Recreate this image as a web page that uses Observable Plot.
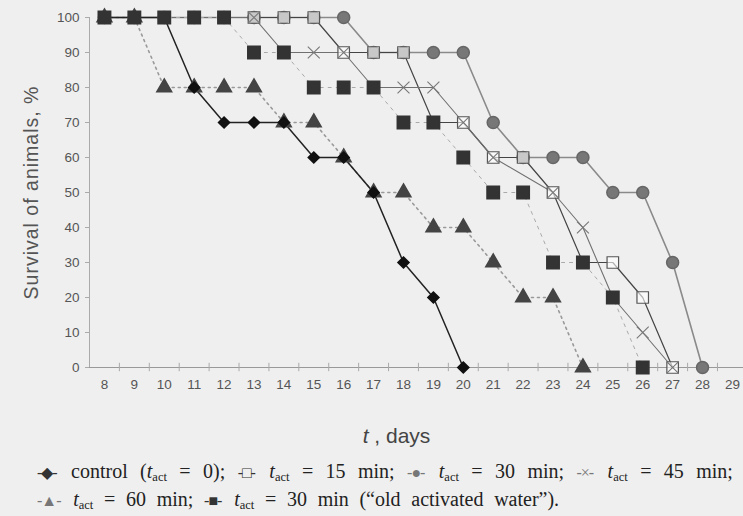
<!DOCTYPE html>
<html>
<head>
<meta charset="utf-8">
<script src="https://cdn.jsdelivr.net/npm/d3@7"></script>
<script src="https://cdn.jsdelivr.net/npm/@observablehq/plot@0.6"></script>
<style>
  html, body { margin: 0; padding: 0; background: #efefef; }
  #wrap { width: 743px; height: 516px; overflow: hidden; background: #efefef; }
  #xlabel { height: 32px; line-height: 32px; font-family: "Liberation Sans", Arial, sans-serif; font-size: 21px; color: #444; text-align: center; padding-left: 50px; box-sizing: border-box; width: 743px; }
  #legend { font-family: "Liberation Serif", "Times New Roman", serif; font-size: 20px; color: #222; line-height: 26px; padding-left: 37px; margin-top: 6px; white-space: nowrap; }
  #legend sub { font-size: 12.5px; vertical-align: -3px; line-height: 0; }
  #l1 { word-spacing: 7.4px; }
  #l2 { word-spacing: 5.7px; }
  .s { color: #333; letter-spacing: -1px; margin-right: 2px; font-size: 16px; word-spacing: 0; }
  .g { color: #777; }
  .ytitle text { letter-spacing: 1px; }
</style>
</head>
<body>
<div id="wrap">
  <div id="chart"></div>
  <div id="xlabel"><i>t</i> , days</div>
  <div id="legend">
    <div id="l1"><span class="s">-◆-</span> control (<i>t</i><sub>act</sub> = 0); <span class="s">-□-</span> <i>t</i><sub>act</sub> = 15 min; <span class="s g">-●-</span> <i>t</i><sub>act</sub> = 30 min; <span class="s g">-×-</span> <i>t</i><sub>act</sub> = 45 min;</div>
    <div id="l2"><span class="s g">-▲-</span> <i>t</i><sub>act</sub> = 60 min; <span class="s">-■-</span> <i>t</i><sub>act</sub> = 30 min (“old activated water”).</div>
  </div>
</div>
<script>
// Tick labels
const dayTicks = d3.range(8, 30);
const survivalTicks = d3.range(0, 101, 10);
const yAxisTitle = "Survival of animals, %";

// Series (day, survival %)
const controlDays     = [8, 9, 10, 11, 12, 13, 14, 15, 16, 17, 18, 19, 20];
const controlSurvival = [100, 100, 100, 80, 70, 70, 70, 60, 60, 50, 30, 20, 0];

const t15Days     = [8, 9, 10, 11, 12, 13, 14, 15, 16, 17, 18, 19, 20, 21, 22, 23, 24, 25, 26, 27];
const t15Survival = [100, 100, 100, 100, 100, 100, 100, 100, 90, 90, 90, 70, 70, 60, 60, 50, 30, 30, 20, 0];

const t30Days     = [8, 9, 10, 11, 12, 13, 14, 15, 16, 17, 18, 19, 20, 21, 22, 23, 24, 25, 26, 27, 28];
const t30Survival = [100, 100, 100, 100, 100, 100, 100, 100, 100, 90, 90, 90, 90, 70, 60, 60, 60, 50, 50, 30, 0];

const t45Days     = [8, 9, 10, 11, 12, 13, 14, 15, 16, 17, 18, 19, 20, 21, 23, 24, 25, 26, 27];
const t45Survival = [100, 100, 100, 100, 100, 100, 90, 90, 90, 80, 80, 80, 70, 60, 50, 40, 20, 10, 0];

const t60Days     = [8, 9, 10, 11, 12, 13, 14, 15, 16, 17, 18, 19, 20, 21, 22, 23, 24];
const t60Survival = [100, 100, 80, 80, 80, 80, 70, 70, 60, 50, 50, 40, 40, 30, 20, 20, 0];

const oldDays     = [8, 9, 10, 11, 12, 13, 14, 15, 16, 17, 18, 19, 20, 21, 22, 23, 24, 25, 26];
const oldSurvival = [100, 100, 100, 100, 100, 90, 90, 80, 80, 80, 70, 70, 60, 50, 50, 30, 30, 20, 0];

const toRows = (days, vals) => days.map((d, i) => ({day: d, value: vals[i]}));
const control = toRows(controlDays, controlSurvival);
const t15 = toRows(t15Days, t15Survival);
const t30 = toRows(t30Days, t30Survival);
const t45 = toRows(t45Days, t45Survival);
const t60 = toRows(t60Days, t60Survival);
const old = toRows(oldDays, oldSurvival);

const halfTicks = d3.range(8.5, 29.5, 1);

const chart = Plot.plot({
  width: 743,
  height: 420,
  marginLeft: 89,
  marginRight: 0,
  marginTop: 17,
  marginBottom: 53,
  style: {background: "#efefef", fontFamily: "Liberation Sans, Arial, sans-serif", fontSize: "13.5px", color: "#555"},
  x: {domain: [7.5, 29.37]},
  y: {domain: [0, 100]},
  marks: [
    Plot.ruleY([0], {stroke: "#999", strokeWidth: 1}),
    Plot.ruleX([7.5], {y1: 0, y2: 100, stroke: "#aaa", strokeWidth: 1}),
    Plot.ruleX(halfTicks, {x: d => d, y1: -1.2, y2: 1.2, stroke: "#aaa", strokeWidth: 1}),
    Plot.axisY({ticks: survivalTicks, tickSize: 4, tickPadding: 6, stroke: "#aaa", fill: "#555", label: null, fontSize: 13.5}),
    Plot.text([yAxisTitle], {frameAnchor: "left", textAnchor: "middle", rotate: -90, dx: -58, text: d => d, fontSize: 19.5, fill: "#555", className: "ytitle"}),
    Plot.axisX({ticks: dayTicks, tickSize: 0, tickPadding: 12, label: null, fill: "#555", fontSize: 13.5}),
    // lines
    Plot.line(t30, {x: "day", y: "value", stroke: "#8a8a8a", strokeWidth: 1.6}),
    Plot.line(t15, {x: "day", y: "value", stroke: "#444", strokeWidth: 1.2}),
    Plot.line(t45, {x: "day", y: "value", stroke: "#707070", strokeWidth: 1.1}),
    Plot.line(t60, {x: "day", y: "value", stroke: "#999", strokeWidth: 1.6, strokeDasharray: "2,4"}),
    Plot.line(old, {x: "day", y: "value", stroke: "#aaa", strokeWidth: 1, strokeDasharray: "3,5"}),
    Plot.line(control, {x: "day", y: "value", stroke: "#222", strokeWidth: 1.5}),
    // markers
    Plot.dot(t30, {x: "day", y: "value", symbol: "circle", r: 6, fill: "#777", stroke: "#666"}),
    Plot.dot(t15, {x: "day", y: "value", symbol: "square", r: 6.5, fill: "#fff", fillOpacity: 0.6, stroke: "#555", strokeWidth: 1.2}),
    Plot.dot(t45, {x: "day", y: "value", symbol: "times", r: 5.5, stroke: "#777", strokeWidth: 1.1}),
    Plot.dot(t60, {x: "day", y: "value", symbol: "triangle", r: 5.5, fill: "#444", stroke: "#444"}),
    Plot.dot(control, {x: "day", y: "value", symbol: "diamond2", r: 5, fill: "#111", stroke: "#111"}),
    Plot.dot(old, {x: "day", y: "value", symbol: "square", r: 7, fill: "#333", stroke: "#333"})
  ]
});
document.getElementById("chart").appendChild(chart);
</script>
</body>
</html>
